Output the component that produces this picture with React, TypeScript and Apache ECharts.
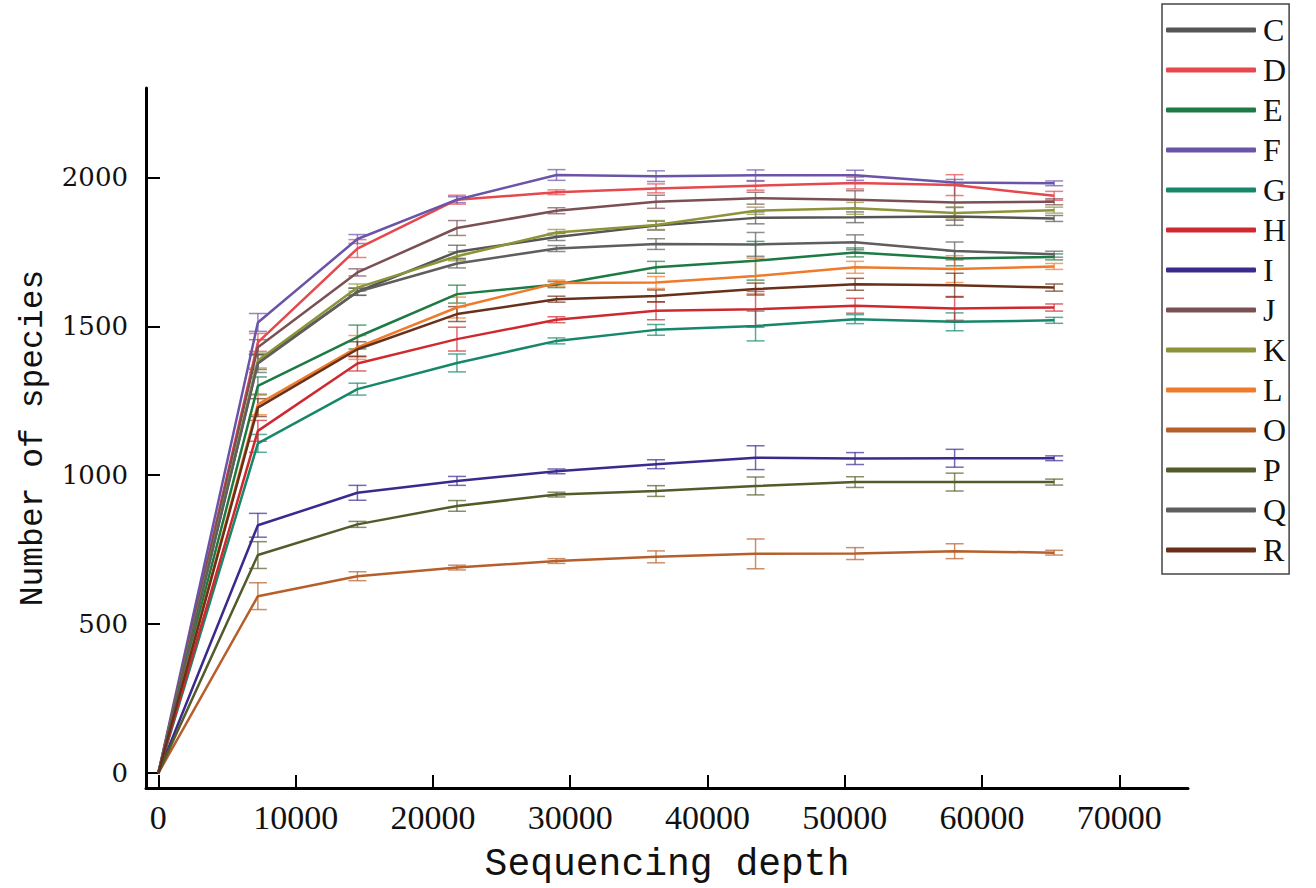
import React, { useEffect, useRef } from "react";
import * as echarts from "echarts";

// Sequencing depth (x) for each sampled point
const depth = [0, 7250, 14500, 21750, 29000, 36250, 43500, 50750, 58000, 65250];

// Sample names (legend order)
const names = ["C", "D", "E", "F", "G", "H", "I", "J", "K", "L", "O", "P", "Q", "R"];

// Number of species per sample
const speciesC = [0, 1380, 1616, 1750, 1800, 1838, 1864, 1866, 1869, 1862];
const speciesD = [0, 1446, 1761, 1925, 1950, 1963, 1972, 1981, 1974, 1938];
const speciesE = [0, 1300, 1464, 1608, 1640, 1698, 1720, 1748, 1728, 1733];
const speciesF = [0, 1513, 1793, 1925, 2008, 2004, 2007, 2007, 1983, 1980];
const speciesG = [0, 1107, 1289, 1377, 1451, 1488, 1501, 1524, 1515, 1520];
const speciesH = [0, 1149, 1375, 1457, 1522, 1552, 1557, 1569, 1560, 1563];
const speciesI = [0, 832, 941, 981, 1013, 1037, 1059, 1056, 1057, 1057];
const speciesJ = [0, 1430, 1681, 1830, 1888, 1918, 1930, 1925, 1916, 1918];
const speciesK = [0, 1385, 1630, 1735, 1815, 1840, 1888, 1896, 1880, 1890];
const speciesL = [0, 1238, 1429, 1563, 1645, 1647, 1669, 1698, 1692, 1701];
const speciesO = [0, 594, 661, 690, 712, 726, 736, 737, 745, 740];
const speciesP = [0, 732, 835, 897, 935, 947, 964, 977, 977, 977];
const speciesQ = [0, 1375, 1616, 1711, 1761, 1776, 1775, 1782, 1753, 1742];
const speciesR = [0, 1227, 1423, 1541, 1591, 1602, 1625, 1641, 1638, 1630];

// Error (half-height of error bars)
const errC = [0, 25, 12, 22, 12, 15, 20, 18, 30, 10];
const errD = [0, 30, 30, 15, 8, 15, 15, 20, 35, 15];
const errE = [0, 30, 40, 30, 10, 20, 65, 15, 25, 10];
const errF = [0, 30, 15, 10, 18, 18, 18, 17, 10, 8];
const errG = [0, 30, 20, 30, 10, 18, 50, 15, 30, 10];
const errH = [0, 35, 25, 40, 10, 30, 60, 25, 40, 12];
const errI = [0, 40, 25, 15, 8, 15, 40, 20, 30, 8];
const errJ = [0, 25, 12, 25, 10, 22, 20, 30, 60, 10];
const errK = [0, 25, 12, 15, 10, 15, 12, 20, 20, 10];
const errL = [0, 35, 40, 35, 10, 20, 60, 20, 45, 10];
const errO = [0, 45, 15, 8, 8, 20, 50, 20, 25, 8];
const errP = [0, 45, 10, 18, 8, 18, 30, 18, 30, 10];
const errQ = [0, 30, 12, 15, 10, 18, 40, 25, 30, 10];
const errR = [0, 30, 25, 25, 10, 20, 20, 20, 40, 12];

const xTicks = [0, 10000, 20000, 30000, 40000, 50000, 60000, 70000];
const yTicks = [0, 500, 1000, 1500, 2000];

const colors = [
  "#555555", "#e5484d", "#1d7a45", "#6a54a8", "#17876a", "#cf2930", "#3a2a8e",
  "#7b5055", "#8d9438", "#ef7a2c", "#b65f2b", "#515c2a", "#5e5e5e", "#68301a",
];

const values = [speciesC, speciesD, speciesE, speciesF, speciesG, speciesH, speciesI,
  speciesJ, speciesK, speciesL, speciesO, speciesP, speciesQ, speciesR];
const errors = [errC, errD, errE, errF, errG, errH, errI, errJ, errK, errL, errO, errP, errQ, errR];

export default function App() {
  const ref = useRef<HTMLDivElement>(null);
  useEffect(() => {
    const chart = echarts.init(ref.current!, null, { renderer: "svg" });

    const lineSeries = names.map((n, i) => ({
      name: n,
      type: "line",
      data: depth.map((d, j) => [d, values[i][j]]),
      symbol: "none",
      lineStyle: { color: colors[i], width: 2.5 },
      itemStyle: { color: colors[i] },
      z: 3,
    }));

    const errSeries = names.map((n, i) => ({
      name: n + " error",
      type: "custom",
      silent: true,
      z: 2,
      encode: { x: 0, y: 1 },
      data: depth.map((d, j) => [d, values[i][j], errors[i][j]]),
      renderItem: (params: any, api: any) => {
        const x = api.value(0);
        const y = api.value(1);
        const e = api.value(2);
        if (!e) return { type: "group", children: [] };
        const top = api.coord([x, y + e]);
        const bot = api.coord([x, y - e]);
        const cw = 9;
        const style = { stroke: colors[i], lineWidth: 1.5, opacity: 0.7 };
        return {
          type: "group",
          children: [
            { type: "line", shape: { x1: top[0], y1: top[1], x2: bot[0], y2: bot[1] }, style },
            { type: "line", shape: { x1: top[0] - cw, y1: top[1], x2: top[0] + cw, y2: top[1] }, style },
            { type: "line", shape: { x1: bot[0] - cw, y1: bot[1], x2: bot[0] + cw, y2: bot[1] }, style },
          ],
        };
      },
    }));

    chart.setOption({
      animation: false,
      backgroundColor: "#ffffff",
      grid: { left: 146, right: 128, top: 88, bottom: 100, containLabel: false },
      legend: {
        data: names,
        orient: "vertical",
        left: 1162,
        top: 4,
        icon: "roundRect",
        itemWidth: 90,
        itemHeight: 5,
        itemGap: 8,
        padding: [10, 3, 8, 4],
        borderColor: "#444444",
        borderWidth: 1.5,
        selectedMode: false,
        textStyle: { fontFamily: "Liberation Serif", fontSize: 32, color: "#111111", padding: [0, 0, 0, 2] },
      },
      xAxis: {
        type: "value",
        min: -900,
        max: 75000,
        name: "Sequencing depth",
        nameLocation: "middle",
        nameGap: 57,
        nameTextStyle: { fontFamily: "Liberation Mono", fontSize: 38, color: "#111111" },
        axisLine: { show: true, onZero: false, lineStyle: { color: "#000000", width: 3 } },
        axisTick: { show: true, inside: true, length: 13, lineStyle: { color: "#000000", width: 2 }, customValues: xTicks },
        axisLabel: {
          customValues: xTicks,
          margin: 12,
          fontFamily: "Liberation Serif",
          fontSize: 34,
          color: "#111111",
          formatter: (v: number) => String(v),
        },
        splitLine: { show: false },
      },
      yAxis: {
        type: "value",
        min: -50,
        max: 2300,
        name: "Number of species",
        nameLocation: "middle",
        nameRotate: 90,
        nameGap: 96,
        nameTextStyle: { fontFamily: "Liberation Mono", fontSize: 33, color: "#111111" },
        axisLine: { show: true, onZero: false, lineStyle: { color: "#000000", width: 3 } },
        axisTick: { show: true, inside: true, length: 14, lineStyle: { color: "#000000", width: 2 }, customValues: yTicks },
        axisLabel: {
          customValues: yTicks,
          margin: 18,
          fontFamily: "DejaVu Serif",
          fontSize: 26,
          color: "#111111",
          formatter: (v: number) => String(v),
        },
        splitLine: { show: false },
      },
      series: [...errSeries, ...lineSeries],
    });

    return () => chart.dispose();
  }, []);

  return (
    <div
      ref={ref}
      style={{ position: "fixed", left: 0, top: 0, width: 1316, height: 888, background: "#fff" }}
    />
  );
}
